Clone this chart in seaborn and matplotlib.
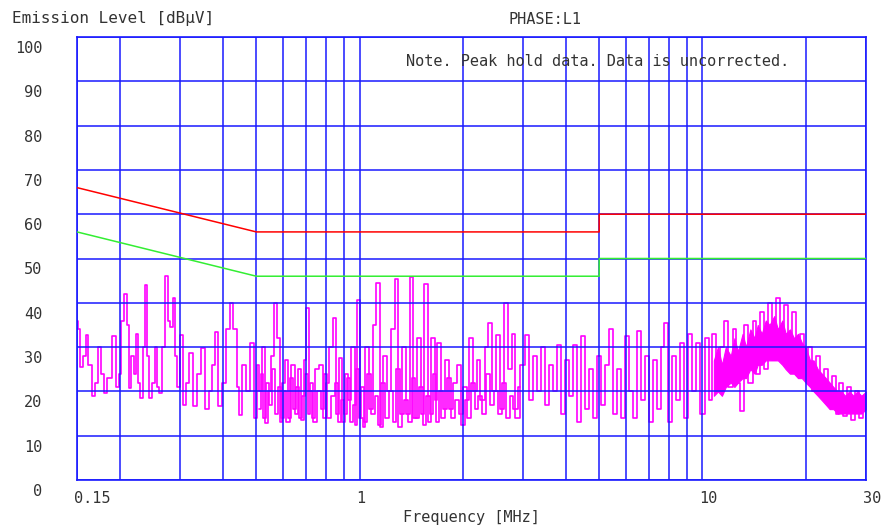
import matplotlib
matplotlib.use("Agg")
import matplotlib.pyplot as plt
import pandas as pd
import seaborn as sns
from matplotlib.ticker import FixedLocator, NullFormatter
from matplotlib.transforms import ScaledTranslation

# peak hold trace (MHz, dBuV)
trace_mhz = [
    0.150, 0.152, 0.155, 0.158, 0.161, 0.163, 0.168, 0.171, 0.174, 0.178, 0.181, 0.186, 0.193, 0.197, 0.200,
    0.203, 0.208, 0.211, 0.214, 0.218, 0.221, 0.224, 0.228, 0.231, 0.236, 0.239, 0.242, 0.246, 0.251, 0.254,
    0.259, 0.263, 0.268, 0.274, 0.277, 0.283, 0.288, 0.292, 0.296,
    0.304, 0.308, 0.314, 0.322, 0.331, 0.340, 0.351, 0.358, 0.368, 0.375, 0.383, 0.391, 0.403, 0.414, 0.422,
    0.434, 0.443, 0.449, 0.461, 0.474, 0.486, 0.496,
    0.507, 0.514, 0.524, 0.535, 0.546, 0.557, 0.568, 0.580, 0.592, 0.600, 0.612, 0.625, 0.641, 0.654, 0.667,
    0.681, 0.695, 0.704, 0.718, 0.732, 0.752, 0.772, 0.788, 0.805, 0.826, 0.848, 0.865, 0.883, 0.900, 0.918,
    0.937, 0.956, 0.980, 0.993, 1.013,
    1.03, 1.05, 1.08, 1.11, 1.13, 1.16, 1.18, 1.22, 1.25, 1.28, 1.31, 1.35, 1.39, 1.42, 1.45, 1.49, 1.53,
    1.56, 1.60, 1.64, 1.67, 1.70, 1.75, 1.80, 1.85, 1.90, 1.95, 2.00,
    2.05, 2.11, 2.17, 2.22, 2.28, 2.35, 2.40, 2.46, 2.53, 2.60, 2.67, 2.74, 2.81, 2.89, 3.00, 3.08, 3.16,
    3.25, 3.34, 3.43, 3.52, 3.62, 3.72, 3.82, 3.92, 4.03, 4.13, 4.25, 4.36, 4.48, 4.60, 4.73, 4.86, 5.00,
    5.13, 5.27, 5.41, 5.56, 5.71, 5.86, 6.02, 6.18, 6.35, 6.52, 6.70, 6.88, 7.06, 7.25, 7.45, 7.65, 7.85,
    8.06, 8.28, 8.51, 8.73, 8.97, 9.21, 9.46, 9.72, 10.0,
    10.3, 10.6, 10.8, 11.1, 11.4, 11.7, 12.1, 12.4, 12.7, 13.1, 13.4, 13.8, 14.2, 14.5, 14.9, 15.3, 15.7,
    16.2, 16.6, 17.1, 17.5, 18.0, 18.5, 19.0, 19.5, 20.0, 20.6, 21.1, 21.7, 22.3, 22.9, 23.5, 24.1, 24.8,
    25.4, 26.1, 26.8, 27.6, 28.3, 29.1, 29.9,
]
trace_dbuv = [
    36, 34, 25.5, 28, 32.7, 26, 19, 22, 30, 24, 19.7, 23, 32.5, 21, 24,
    36, 42, 35, 20.7, 28, 24, 33, 22, 18.5, 30, 44, 28, 18.5, 22, 30,
    21, 19.7, 30, 46, 36, 34.5, 41, 28, 21,
    32.7, 17, 22, 28.7, 16.7, 24, 29.8, 16, 20, 26, 33.3, 16.7, 22, 34, 40,
    34, 21, 14.7, 26, 20, 31, 14,
    26, 20, 30, 12.8, 20, 28, 40, 32, 13, 22, 27, 14, 26, 15, 25,
    13.5, 27, 38.8, 20, 14, 25, 26, 14, 22, 30, 36.5, 15, 27.5, 13, 24,
    18, 30, 12.5, 40.6, 14,
    12, 30, 16, 35, 44.5, 12, 28, 20, 34, 45.3, 12, 30, 15, 45.9, 14, 32, 15,
    44.2, 13, 32, 18, 31, 14, 27, 16, 22, 26, 12.5,
    18, 32, 20, 27, 18, 30, 35.5, 20, 32.8, 16, 40, 25, 33, 14, 26, 32.8, 18,
    28, 20, 30, 17, 26, 20, 30.5, 15, 27, 19, 30.5, 13, 32.4, 16, 25, 14, 28,
    17, 26, 34, 15, 25, 14, 32.5, 20, 14, 33.6, 18, 28, 13, 27, 16, 30, 35.5,
    13, 28, 18, 31, 14, 33, 20, 31, 15,
    32, 18, 33, 20, 30, 36, 21, 34, 22, 15.5, 35, 22, 36, 24, 38, 25, 40,
    27, 41, 27, 39.5, 26, 38, 24, 33, 23, 30, 20, 28, 19, 25, 17, 23.5, 15,
    22, 14.5, 21, 13.5, 20, 14, 19,
]

# the busy low-level part between 0.5 and 3 MHz (drawn between the trace points)
floor_mhz = [
    0.510, 0.519, 0.530, 0.540, 0.551, 0.562, 0.574, 0.586, 0.596,
    0.606, 0.618, 0.633, 0.647, 0.660, 0.674, 0.688, 0.700,
    0.711, 0.725, 0.742, 0.762, 0.780, 0.796, 0.815, 0.837,
    0.856, 0.874, 0.891, 0.909, 0.927, 0.946, 0.968, 0.987,
    1.00, 1.02, 1.04, 1.065, 1.095, 1.12, 1.145,
    1.17, 1.20, 1.235, 1.265, 1.295, 1.33, 1.37,
    1.405, 1.435, 1.47, 1.51, 1.545, 1.58, 1.62, 1.655,
    1.685, 1.725, 1.775, 1.825, 1.875, 1.925, 1.975, 2.025,
    2.08, 2.14, 2.195, 2.25, 2.315, 2.375, 2.43, 2.495,
    2.565, 2.635, 2.705, 2.775, 2.85, 2.945,
]
floor_dbuv = [
    16, 24, 14, 22, 17, 25, 15, 21, 14,
    20, 13, 23, 16, 21, 14, 19, 24,
    15, 22, 13, 20, 16, 24, 14, 19,
    22, 13, 18, 15, 23, 13, 17, 25,
    14, 21, 13, 24, 15, 19, 12.5,
    22, 14, 20, 13, 25, 15, 18,
    13, 23, 14, 21, 12.5, 19, 15, 24,
    13, 20, 16, 23, 14, 18, 15, 21,
    14, 22, 16, 19, 15, 24, 17, 20,
    15, 22, 14, 19, 16, 21,
]

# dense part of the trace above 10 MHz (upper / lower edge of the solid band)
band_mhz = [10.8, 11.1, 11.4, 11.7, 12.1, 12.4, 12.7, 13.1, 13.4, 13.8, 14.2, 14.5, 14.9,
            15.3, 15.7, 16.2, 16.6, 17.1, 17.5, 18.0, 18.5, 19.0, 19.5, 20.0, 20.6, 21.1,
            21.7, 22.3, 22.9, 23.5, 24.1, 24.8, 25.4, 26.1, 26.8, 27.6, 28.3, 29.1, 30.0]
band_hi = [27, 30, 26, 30, 28, 32, 29, 33, 30, 34, 32, 35, 33,
           36, 35, 37, 34, 36, 33, 34, 32, 33, 31, 30, 27, 27,
           25, 24, 23, 22, 21, 20, 20, 19, 20, 19, 20, 19, 20]
band_lo = [19, 20, 19, 21, 22, 21, 22, 23, 23, 25, 24, 26, 26,
           27, 27, 27, 27, 26, 25, 24, 24, 23, 23, 22, 21, 20,
           19, 18, 17, 16, 16, 15, 15, 15, 15, 15, 15, 15, 16]

# limit lines
limit_mhz = [0.15, 0.5, 5, 5, 30]
qp_dbuv = [66, 56, 56, 60, 60]
av_dbuv = [56, 46, 46, 50, 50]

major_mhz = [0.15, 1, 10, 30]
major_labels = ["0.15", "1", "10", "30"]
minor_mhz = [0.2, 0.3, 0.4, 0.5, 0.6, 0.7, 0.8, 0.9, 2, 3, 4, 5, 6, 7, 8, 9, 20]
y_ticks = list(range(0, 101, 10))

sns.set_theme(style="white")
plt.rcParams["font.family"] = ["DejaVu Sans Mono"]
txt = "#333333"
blue = "#1a1aff"
magenta = "#ff00ff"

trace = pd.DataFrame({"mhz": trace_mhz, "dbuv": trace_dbuv})
floor = pd.DataFrame({"mhz": floor_mhz, "dbuv": floor_dbuv})
limits = pd.DataFrame({"mhz": limit_mhz, "qp": qp_dbuv, "av": av_dbuv})

fig, ax = plt.subplots(figsize=(8.82, 5.27), dpi=100)
fig.subplots_adjust(left=77 / 882, right=866 / 882, bottom=1 - 480 / 527, top=1 - 37 / 527)

ax.fill_between(band_mhz, band_lo, band_hi, color=magenta, lw=0.8, edgecolor=magenta,
                zorder=1.9)
sns.lineplot(data=floor, x="mhz", y="dbuv", sort=False, estimator=None,
             color=magenta, lw=1.2, drawstyle="steps-mid", zorder=2, ax=ax)
sns.lineplot(data=trace, x="mhz", y="dbuv", sort=False, estimator=None,
             color=magenta, lw=1.2, drawstyle="steps-mid", zorder=2, ax=ax)
sns.lineplot(data=limits, x="mhz", y="qp", sort=False, estimator=None,
             color="#ff0000", lw=1.1, zorder=3, ax=ax)
sns.lineplot(data=limits, x="mhz", y="av", sort=False, estimator=None,
             color="#33ee33", lw=1.1, zorder=3, ax=ax)

ax.set_xscale("log")
ax.set_xlim(0.15, 30)
ax.set_ylim(0, 100)
ax.set_xticks(major_mhz)
ax.set_xticklabels(major_labels)
ax.xaxis.set_minor_locator(FixedLocator(minor_mhz))
ax.xaxis.set_minor_formatter(NullFormatter())
ax.set_yticks(y_ticks)
ax.set_yticklabels([str(v) for v in y_ticks])
ax.grid(True, which="both", color=blue, lw=1.1)
ax.set_axisbelow(False)
for s in ax.spines.values():
    s.set_color(blue)
    s.set_linewidth(1.2)

ax.tick_params(which="both", length=0, labelsize=11, labelcolor=txt)
ax.tick_params(axis="y", pad=25)
ax.tick_params(axis="x", pad=8)
ax.set_xlabel("Frequency [MHz]", fontsize=11, color=txt, labelpad=3)
ax.set_ylabel("")

# labels in the original sit a bit off their grid lines
for lab in ax.get_yticklabels():
    lab.set_transform(lab.get_transform() + ScaledTranslation(0, -0.10, fig.dpi_scale_trans))
for lab in ax.get_xticklabels():
    lab.set_horizontalalignment("left")
    lab.set_transform(lab.get_transform() + ScaledTranslation(-0.03, 0, fig.dpi_scale_trans))

fig.text(12 / 882, 1 - 18 / 527, "Emission Level [dBμV]", ha="left", va="center",
         fontsize=11.5, color=txt)
fig.text(545 / 882, 1 - 20 / 527, "PHASE:L1", ha="center", va="center",
         fontsize=11, color=txt)
fig.text(406 / 882, 1 - 61 / 527, "Note. Peak hold data. Data is uncorrected.",
         ha="left", va="center", fontsize=11, color=txt, zorder=1)

fig.savefig("out.png", dpi=100)
